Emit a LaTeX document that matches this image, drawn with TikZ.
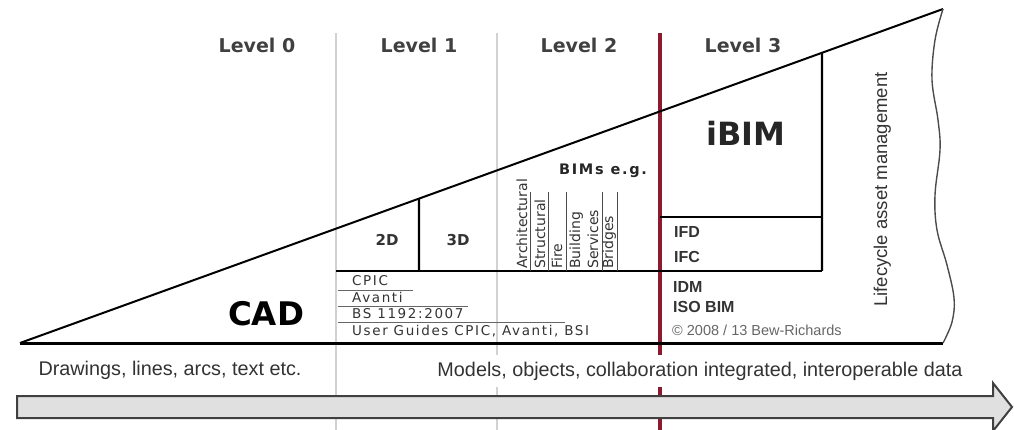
\documentclass[tikz,border=0pt]{standalone}
\usepackage{fontspec}
\setmainfont{DejaVu Sans}
\newfontfamily\arialf{Liberation Sans}
\newfontfamily\dvspaced[LetterSpace=12]{DejaVu Sans}
\usetikzlibrary{calc}
\definecolor{bimred}{HTML}{8B1A2E}
\definecolor{sepgray}{HTML}{D2D2D2}
\definecolor{txtgray}{HTML}{333333}
\begin{document}
\begin{tikzpicture}[x=1pt,y=-1pt,
  sepline/.style={draw=sepgray, line width=1.8pt},
  redline/.style={draw=bimred, line width=4pt},
  thinrule/.style={draw=black!60, line width=0.9pt},
  colrule/.style={draw=black!70, line width=0.9pt},
  lvl/.style={font=\fontsize{19}{24}\selectfont\bfseries, text=black!75, inner sep=0pt},
  dim/.style={font=\fontsize{15}{18}\selectfont\bfseries, text=txtgray, inner sep=0pt},
  coltxt/.style={font=\fontsize{14}{18}\selectfont, text=txtgray, rotate=90, anchor=base west, inner sep=0pt},
  stdtxt/.style={font=\dvspaced\fontsize{13.5}{15}\selectfont, text=black!80, anchor=base west, inner sep=0pt},
  stdbold/.style={font=\arialf\fontsize{16}{19}\selectfont\bfseries, text=txtgray, anchor=base west, inner sep=0pt},
  bottomtxt/.style={font=\arialf\fontsize{19.8}{22}\selectfont, text=txtgray, fill=white, inner xsep=1pt, inner ysep=7pt}
]
\useasboundingbox (0,0) rectangle (1014,430);

% level separators
\coordinate (g1t) at (336,33); \coordinate (g1b) at (336,430);
\coordinate (g2t) at (497,33); \coordinate (g2b) at (497,430);
\coordinate (rt) at (660,33);  \coordinate (rb) at (660,430);
\draw[sepline] (g1t) -- (g1b);
\draw[sepline] (g2t) -- (g2b);
\draw[redline] (rt) -- (rb);

% triangle
\coordinate (A) at (20,343);
\coordinate (T) at (943,9);
\coordinate (B) at (943,343);
\draw[black, line width=2pt, line join=miter] (A) -- (T);
\draw[black, line width=3pt] (A) -- (B);
\draw[black!70, line width=1.4pt] plot[smooth, tension=0.6] coordinates
  {(943,9) (935,40) (932,80) (938,120) (940,150) (935,195) (937,230) (947,265) (954,298) (952,322) (943,343)};

% inner structure
\coordinate (d2top) at ($(A)!0.4323!(T)$);
\coordinate (d2bot) at (419,271);
\coordinate (ibtop) at ($(A)!0.8689!(T)$);
\coordinate (ibbot) at (822,271);
\coordinate (hl) at (336,271);
\coordinate (ml) at (660,217);
\coordinate (mr) at (822,217);
\draw[black, line width=2.4pt] (hl) -- (ibbot);
\draw[black, line width=2.4pt] (d2top) -- (d2bot);
\draw[black, line width=2.4pt] (ibtop) -- (ibbot);
\draw[black, line width=2.4pt] (ml) -- (mr);

% BIM column rules
\foreach \x/\n in {530/c1,548/c2,566/c3,602/c4,617/c5}{
  \coordinate (\n t) at (\x,192); \coordinate (\n b) at (\x,271);
  \draw[colrule] (\n t) -- (\n b);
}

% standards underlines
\coordinate (u1a) at (338,290); \coordinate (u1b) at (413,290);
\coordinate (u2a) at (338,306); \coordinate (u2b) at (468,306);
\coordinate (u3a) at (338,322); \coordinate (u3b) at (565,322);
\draw[thinrule] (u1a) -- (u1b);
\draw[thinrule] (u2a) -- (u2b);
\draw[thinrule] (u3a) -- (u3b);

% level labels
\node[lvl] (lv0) at (257,45) {Level 0};
\node[lvl] (lv1) at (419,45) {Level 1};
\node[lvl] (lv2) at (579,45) {Level 2};
\node[lvl] (lv3) at (743,45) {Level 3};

% main labels
\node[font=\fontsize{32.5}{36}\selectfont\bfseries, text=black, inner sep=0pt] (cad) at (266,314) {CAD};
\node[font=\fontsize{32}{36}\selectfont\bfseries, text=black!85, inner sep=0pt] (ibim) at (746,133) {iBIM};
\node[dim] (d2) at (387,240) {2D};
\node[dim] (d3) at (458,240) {3D};
\node[font=\dvspaced\fontsize{14.5}{17}\selectfont\bfseries, text=black!85, inner sep=0pt] (bims) at (603,171) {BIMs e.g.};

% rotated BIM types
\node[coltxt] (arch) at (527,269) {Architectural};
\node[coltxt] (struc) at (545,269) {Structural};
\node[coltxt] (fire) at (562,269) {Fire};
\node[coltxt] (build) at (580,269) {Building};
\node[coltxt] (serv) at (598,269) {Services};
\node[coltxt] (bridg) at (613,269) {Bridges};

% standards
\node[stdtxt] (cpic) at (352,285) {CPIC};
\node[stdtxt] (avanti) at (352,302.5) {Avanti};
\node[stdtxt] (bs) at (352,318.5) {BS 1192:2007};
\node[stdtxt] (guides) at (352,335) {User Guides CPIC, Avanti, BSI};

% level 3 standards
\node[stdbold] (ifd) at (674,238) {IFD};
\node[stdbold] (ifc) at (674,262.5) {IFC};
\node[stdbold] (idm) at (673,292.5) {IDM};
\node[stdbold] (isobim) at (673,312.5) {ISO BIM};
\node[font=\arialf\fontsize{14.5}{17}\selectfont, text=black!60, anchor=base west, inner sep=0pt] (copy) at (672,335) {© 2008 / 13 Bew-Richards};

% lifecycle
\node[font=\arialf\fontsize{18.5}{22}\selectfont, text=txtgray, rotate=90, anchor=base west, inner sep=0pt] (life) at (887,307) {Lifecycle asset management};

% bottom texts
\node[bottomtxt] (draw) at (170,370) {Drawings, lines, arcs, text etc.};
\node[bottomtxt] (models) at (700,371) {Models, objects, collaboration integrated, interoperable data};

% arrow
\coordinate (a1) at (17,396); \coordinate (a2) at (993,396); \coordinate (a3) at (993,383);
\coordinate (a4) at (1012,407); \coordinate (a5) at (993,431); \coordinate (a6) at (993,418);
\coordinate (a7) at (17,418);
\draw[fill=black!12, draw=black!75, line width=2pt, line join=miter] (a1) -- (a2) -- (a3) -- (a4) -- (a5) -- (a6) -- (a7) -- cycle;
\end{tikzpicture}
\end{document}
